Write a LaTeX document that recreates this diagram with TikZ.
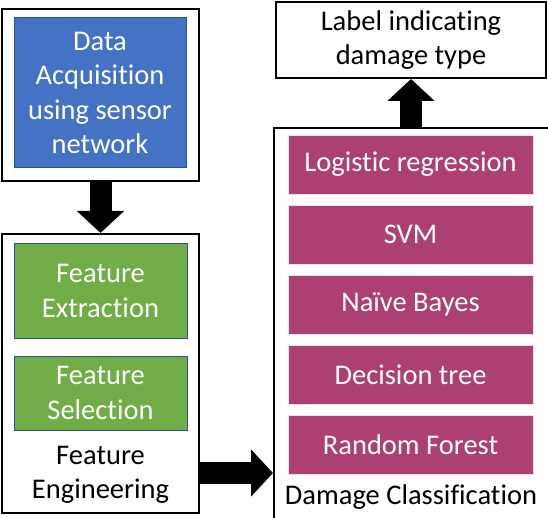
\documentclass[tikz,border=0pt]{standalone}
\usepackage{fontspec}
\setmainfont{Carlito}[Ligatures=NoCommon]
\usetikzlibrary{arrows.meta, positioning}

\definecolor{acqblue}{RGB}{68,114,196}
\definecolor{edgeblue}{RGB}{47,82,143}
\definecolor{featgreen}{RGB}{112,173,71}
\definecolor{clsberry}{RGB}{172,64,114}

\begin{document}
\begin{tikzpicture}[x=1pt,y=-1pt,
every node/.style={font=\fontsize{28.5}{34.5}\selectfont,align=center,inner sep=0pt},
outer/.style={draw,line width=2pt,fill=white},
acqbox/.style={fill=acqblue,draw=edgeblue,line width=1pt,text=white,minimum width=172pt,minimum height=150pt},
featbox/.style={fill=featgreen,draw=edgeblue,line width=1pt,text=white,minimum width=173pt},
clsbox/.style={fill=clsberry,draw=white!85!edgeblue,line width=.6pt,text=white,minimum width=245pt,minimum height=59pt},
bigarrow/.style={line width=22pt,-{Triangle[length=22pt,width=46pt]}}]
\clip (0,0) rectangle (548,518);
% data acquisition
\node[outer,minimum width=197pt,minimum height=172pt] (acq) at (100.5,95) {};
\node[acqbox] (sensor) at (100,93) {Data\\Acquisition\\using sensor\\network};
% feature engineering
\node[outer,minimum width=197pt,minimum height=279pt] (fe) at (100.5,373.5) {};
\node[featbox,minimum height=94pt] (extract) at (100.5,291) {Feature\\Extraction};
\node[featbox,minimum height=74pt] (select) at (100.5,393) {Feature\\Selection};
\node (felabel) at (100.5,475) {Feature\\Engineering};
% damage classification
\node[outer,minimum width=288pt,minimum height=402pt] (dc) at (418,329) {};
\foreach \name [count=\i] in {Logistic regression,SVM,Na\"ive Bayes,Decision tree,Random Forest}
  \node[clsbox] (cls\i) at (410.5,94.5+70*\i) {\name};
\node (dclabel) at (411,497) {Damage Classification};
% output
\node[outer,minimum width=270pt,minimum height=76pt] (lab) at (411,40) {Label indicating\\damage type};
% arrows
\coordinate (feout) at ([yshift=41pt]fe.south east);
\draw[bigarrow] (acq.south) -- (fe.north);
\draw[bigarrow] (feout) -- (feout -| dc.west);
\draw[bigarrow] (lab.south |- dc.north) -- (lab.south);
\end{tikzpicture}
\end{document}
